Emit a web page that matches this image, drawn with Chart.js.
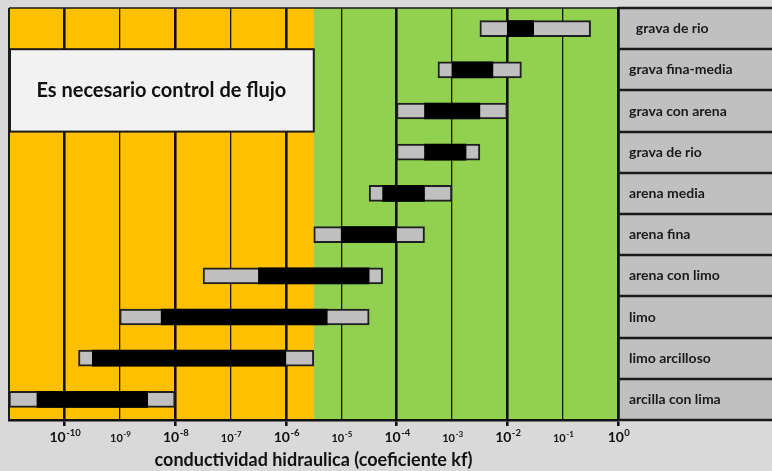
<!DOCTYPE html>
<html><head><meta charset="utf-8">
<script src="https://cdn.jsdelivr.net/npm/chart.js@4.4.1/dist/chart.umd.min.js"></script>
<style>html,body{margin:0;padding:0;background:#d9d9d9;}canvas{display:block;}</style>
</head><body>
<canvas id="c" width="772" height="471"></canvas>
<script>
// ---- data (hydraulic conductivity kf, m/s) ----
const categories = ['  grava de rio', 'grava fina-media', 'grava con arena', 'grava de rio', 'arena media',
                    'arena fina', 'arena con limo', 'limo', 'limo arcilloso', 'arcilla con lima'];
const rangeLow  = [3.2e-3, 5.6e-4, 1e-4,   1e-4,   3.2e-5, 3.2e-6, 3.2e-8, 1e-9,   1.8e-10, 1e-11];
const rangeHigh = [0.32,   1.8e-2, 1e-2,   3.2e-3, 1e-3,   3.2e-4, 5.6e-5, 3.2e-5, 3.2e-6,  1e-8];
const coreLow   = [1e-2,   1e-3,   3.2e-4, 3.2e-4, 5.6e-5, 1e-5,   3.2e-7, 5.6e-9, 3.2e-10, 3.2e-11];
const coreHigh  = [3e-2,   5.5e-3, 3.2e-3, 1.8e-3, 3.2e-4, 1e-4,   3.2e-5, 5.6e-6, 1e-6,    3.2e-9];
const tickValues = [1e-11, 1e-10, 1e-9, 1e-8, 1e-7, 1e-6, 1e-5, 1e-4, 1e-3, 1e-2, 1e-1, 1];
const tickLabelBase = '10';
const tickLabelExponents = ['-10', '-9', '-8', '-7', '-6', '-5', '-4', '-3', '-2', '-1', '0'];
const tickLabelValues = [1e-10, 1e-9, 1e-8, 1e-7, 1e-6, 1e-5, 1e-4, 1e-3, 1e-2, 1e-1, 1];
const zoneBoundary = 3.2e-6;       // orange | green limit
const boxRows = [1, 2];            // category rows covered by the note box
const boxText = 'Es necesario control de flujo';
const axisTitle = 'conductividad hidraulica (coeficiente kf)';

const FONT = 'Lato, "Open Sans", sans-serif';
const expOf = v => Math.round(Math.log10(v));

const decor = {
  id: 'decor',
  beforeDraw(chart) {
    const {ctx, chartArea: a, scales: {x}} = chart;
    ctx.save();
    ctx.fillStyle = '#d9d9d9';
    ctx.fillRect(0, 0, chart.width, chart.height);
    const zx = x.getPixelForValue(zoneBoundary);
    ctx.fillStyle = '#ffc000';
    ctx.fillRect(a.left, a.top, zx - a.left, a.bottom - a.top);
    ctx.fillStyle = '#92d050';
    ctx.fillRect(zx, a.top, a.right - zx, a.bottom - a.top);
    ctx.fillStyle = '#c0c0c0';
    ctx.fillRect(a.right, a.top, chart.width - a.right, a.bottom - a.top);
    ctx.restore();
  },
  beforeDatasetsDraw(chart) {
    const {ctx, chartArea: a, scales: {x, y}} = chart;
    const x0 = a.left, x1 = x.getPixelForValue(zoneBoundary);
    const y0 = y.getPixelForValue(boxRows[0] - 0.5), y1 = y.getPixelForValue(boxRows[boxRows.length - 1] + 0.5);
    ctx.save();
    ctx.fillStyle = '#f2f2f2';
    ctx.fillRect(x0, y0, x1 - x0, y1 - y0);
    ctx.strokeStyle = '#1a1a1a';
    ctx.lineWidth = 2;
    ctx.strokeRect(x0 + 1, y0, x1 - x0 - 1, y1 - y0);
    ctx.fillStyle = '#111';
    ctx.font = 'bold 20px ' + FONT;
    ctx.textAlign = 'center';
    ctx.textBaseline = 'middle';
    ctx.fillText(boxText, (x0 + x1) / 2, (y0 + y1) / 2);
    ctx.restore();
  },
  afterDraw(chart) {
    const {ctx, chartArea: a, scales: {x, y}} = chart;
    ctx.save();
    // panel row separators
    ctx.strokeStyle = '#1a1a1a';
    ctx.lineWidth = 2.5;
    for (let i = 0; i <= categories.length; i++) {
      const py = Math.round(y.getPixelForValue(i - 0.5));
      ctx.beginPath();
      ctx.moveTo(a.right, py);
      ctx.lineTo(chart.width, py);
      ctx.stroke();
    }
    // top border & left border of plot
    ctx.lineWidth = 1.5;
    ctx.beginPath();
    ctx.moveTo(a.left, a.top);
    ctx.lineTo(a.right, a.top);
    ctx.stroke();
    ctx.lineWidth = 2;
    ctx.beginPath();
    ctx.moveTo(a.left, a.top);
    ctx.lineTo(a.left, a.bottom);
    ctx.stroke();
    // tick labels 10^n
    ctx.fillStyle = '#111';
    ctx.textBaseline = 'alphabetic';
    ctx.textAlign = 'left';
    tickLabelValues.forEach((v, i) => {
      const e = expOf(v);
      const big = e % 2 === 0;
      const baseFont = 'bold ' + (big ? 14 : 11) + 'px ' + FONT;
      const expFont = 'bold ' + (big ? 9.5 : 8) + 'px ' + FONT;
      ctx.font = baseFont;
      const wb = ctx.measureText(tickLabelBase).width;
      ctx.font = expFont;
      const we = ctx.measureText(tickLabelExponents[i]).width;
      const px = x.getPixelForValue(v);
      const sx = px - (wb + we) / 2 + 0.5;
      ctx.font = baseFont;
      ctx.fillText(tickLabelBase, sx, 442);
      ctx.font = expFont;
      ctx.fillText(tickLabelExponents[i], sx + wb + 0.5, big ? 435.5 : 436.5);
    });
    ctx.restore();
  }
};

new Chart(document.getElementById('c'), {
  type: 'bar',
  data: {
    labels: categories,
    datasets: [
      {
        label: 'rango principal',
        data: categories.map((c, i) => [coreLow[i], coreHigh[i]]),
        backgroundColor: '#000000',
        borderWidth: 0,
        barThickness: 16,
        grouped: false,
        order: 0
      },
      {
        label: 'rango',
        data: categories.map((c, i) => [rangeLow[i], rangeHigh[i]]),
        backgroundColor: '#c0c0c0',
        borderColor: '#1f1f1f',
        borderWidth: 2,
        borderSkipped: false,
        barThickness: 16,
        grouped: false,
        order: 1
      }
    ]
  },
  options: {
    indexAxis: 'y',
    responsive: false,
    animation: false,
    devicePixelRatio: 1,
    layout: {padding: {left: 9, top: 8, right: 0, bottom: 0}},
    plugins: {legend: {display: false}, tooltip: {enabled: false}},
    scales: {
      x: {
        type: 'logarithmic',
        min: 1e-11,
        max: 1,
        afterBuildTicks(scale) { scale.ticks = tickValues.map(v => ({value: v})); },
        afterFit(scale) { scale.height = 51; scale.paddingLeft = 0; scale.paddingRight = 0; },
        ticks: {display: false},
        grid: {
          color: '#111',
          lineWidth: ctx => { const e = expOf(ctx.tick.value); return e === -11 ? 2 : (e % 2 === 0 ? 2.6 : 1.3); },
          drawTicks: true,
          tickLength: 6,
          tickColor: ctx => (expOf(ctx.tick.value) % 2 === 0 ? '#111' : 'rgba(0,0,0,0)')
        },
        border: {display: true, color: '#111', width: 2.5},
        title: {
          display: true,
          text: axisTitle,
          color: '#111',
          font: {family: FONT, size: 18, weight: 'bold'},
          padding: {top: 0, bottom: 0}
        }
      },
      y: {
        type: 'category',
        position: 'right',
        afterFit(scale) { scale.width = 154; scale.paddingTop = 0; scale.paddingBottom = 0; },
        grid: {display: false, drawTicks: false},
        border: {display: true, color: '#111', width: 2.5},
        ticks: {
          color: '#1a1a1a',
          font: {family: FONT, size: 14, weight: 'bold'},
          crossAlign: 'near',
          padding: 11
        }
      }
    }
  },
  plugins: [decor]
});
</script>
</body></html>
